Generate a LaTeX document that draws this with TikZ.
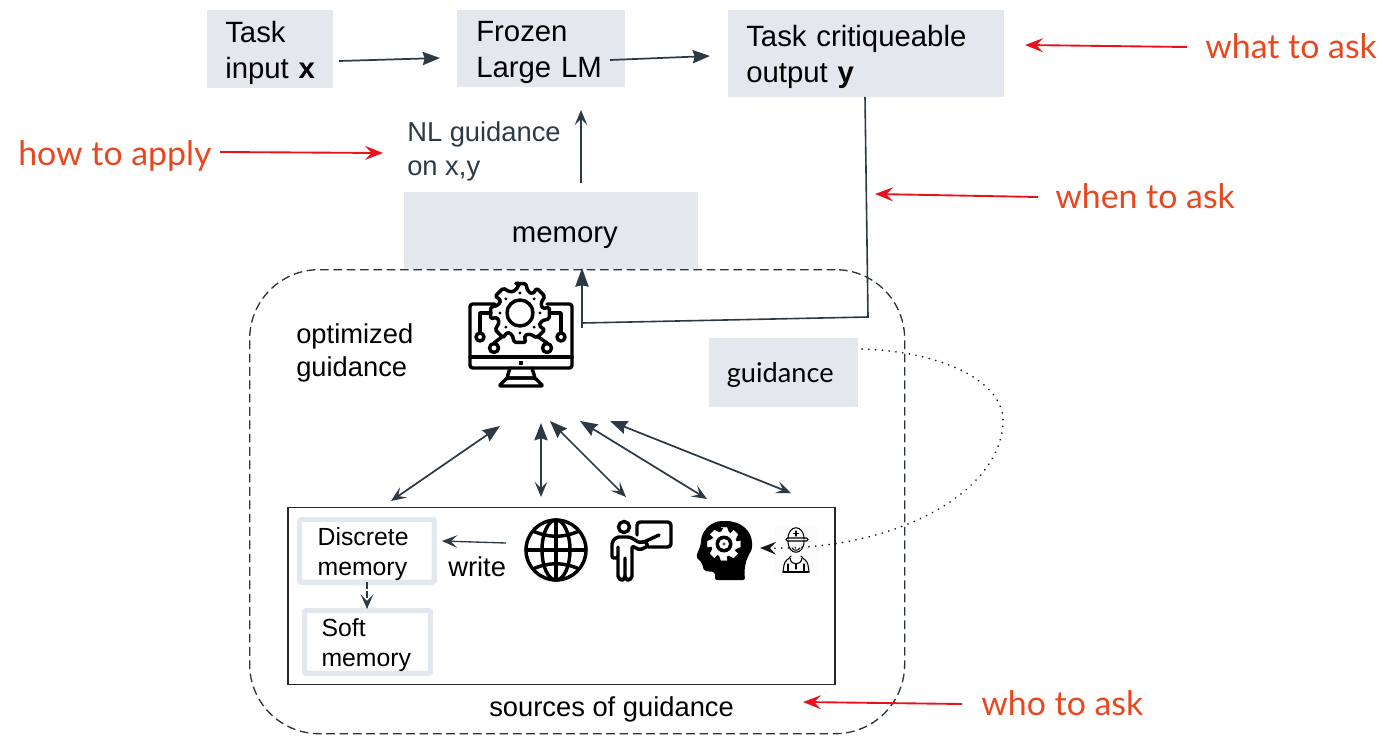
\documentclass[tikz,border=0pt]{standalone}
\usepackage{fontspec}
\setmainfont{Liberation Sans}
\newfontfamily\lato{Lato}
\usetikzlibrary{arrows.meta,calc}
\definecolor{boxgray}{HTML}{E3E7EE}
\definecolor{ink}{HTML}{2D3A46}
\definecolor{redtxt}{HTML}{E8481F}
\definecolor{redline}{HTML}{E6121C}
\tikzset{
  x=0.75pt,y=-0.75pt,
  fulltip/.tip={Stealth[length=13pt,width=10pt,inset=1.5pt]},
  sharptip/.tip={Stealth[length=11.5pt,width=9.5pt,inset=5pt]},
  box/.style={fill=boxgray,inner xsep=0pt,inner ysep=0pt,align=left,font=\fontsize{22}{27}\selectfont,text=black},
  plain/.style={inner sep=0pt,align=left,font=\fontsize{20.5}{25.2}\selectfont},
  frame/.style={draw=boxgray,line width=3.9pt,rounded corners=1pt,inner sep=0pt,align=left,font=\fontsize{18.6}{22.5}\selectfont},
  redlabel/.style={inner sep=0pt,font=\lato\fontsize{25.4}{30}\selectfont,text=redtxt},
  conn/.style={draw=ink,line width=1.3pt,-fulltip},
  openconn/.style={draw=ink,line width=1.2pt,-sharptip},
  bidir/.style={draw=ink,line width=1.3pt,fulltip-sharptip},
  redarrow/.style={draw=redline,line width=1.4pt,-{Stealth[length=13.5pt,width=10.5pt,inset=5pt]}},
  icon/.style={draw=black,line width=2.6pt,line join=round,line cap=round},
  thinicon/.style={draw=black,line width=0.8pt,line join=round,line cap=round},
}
\begin{document}
\begin{tikzpicture}
\useasboundingbox (0,0) rectangle (1384,746);
% main boxes
\node[box,minimum width=94.5pt,minimum height=58.5pt,text width=67.5pt,inner xsep=13.5pt,anchor=north west] (input) at (207,10) {\rule{0pt}{21pt}Task\\input \textbf{x}};
\node[box,minimum width=126pt,minimum height=57.75pt,text width=97.5pt,inner xsep=14.25pt,anchor=north west] (frozen) at (457,10) {\rule{0pt}{21pt}Frozen\\Large LM};
\node[box,minimum width=207pt,minimum height=65pt,text width=180pt,inner xsep=13.5pt,anchor=north west] (critique) at (728,10) {\rule{0pt}{21pt}Task critiqueable\\output \textbf{y}};
\node[box,minimum width=220pt,minimum height=57.75pt,anchor=north west,align=center] (memory) at (404,192) {\hspace*{21pt}\rule{0pt}{22.5pt}memory};
\node[box,minimum width=111.75pt,minimum height=51.75pt,anchor=north west,align=center,font=\lato\fontsize{20.4}{24}\selectfont] (guidance) at (709,338) {\rule{0pt}{18pt}guidance\hspace*{5.25pt}};
\node[plain,anchor=north west,text=ink] (nl) at (407,121.5) {NL guidance\\on x,y};
% guidance region
\node[draw=ink!90!black,dash pattern=on 6.5pt off 3.5pt,line width=1pt,rounded corners=52pt,minimum width=491.25pt,minimum height=348pt,anchor=north west] (region) at (249,269) {};
\node[plain,anchor=north west] (optimized) at (296,323) {optimized\\guidance};
\node[draw=black!85,line width=1.2pt,minimum width=410.25pt,minimum height=132.75pt,anchor=north west] (sources) at (287,506.5) {};
\node[plain,anchor=base west] (srclabel) at (489,716) {sources of guidance};
\node[frame,minimum width=101pt,minimum height=47pt,text width=74pt,inner xsep=13.4pt,anchor=north west] (discrete) at (297,517) {\rule{0pt}{18.5pt}Discrete\\memory};
\node[frame,minimum width=94.4pt,minimum height=47pt,text width=69pt,inner xsep=12.7pt,anchor=north west] (soft) at (302,608) {\rule{0pt}{18.5pt}Soft\\memory};
\node[plain,anchor=base west] (write) at (448,576) {write};
% red labels
\node[redlabel,anchor=base west] (what) at (1205,58) {what to ask};
\node[redlabel,anchor=base west] (how) at (18,165) {how to apply};
\node[redlabel,anchor=base west] (when) at (1055,208) {when to ask};
\node[redlabel,anchor=base west] (who) at (981,715) {who to ask};
% connector ends
\coordinate (a1) at (339,61); \coordinate (a2) at (440,58);
\coordinate (b1) at (610,60); \coordinate (b2) at (710,56);
\coordinate (c1) at (581,183); \coordinate (c2) at (581,110);
\coordinate (d0) at (582,328); \coordinate (d1) at (582,323); \coordinate (d2) at (582,268);
\coordinate (e0) at (865,97); \coordinate (e1) at (868,317);
\coordinate (hub1) at (500,426); \coordinate (src1) at (391,501);
\coordinate (hub2) at (541,423); \coordinate (src2) at (541,497);
\coordinate (hub3) at (550,421); \coordinate (src3) at (626,497);
\coordinate (hub4) at (580,421); \coordinate (src4) at (707,499);
\coordinate (hub5) at (610,421); \coordinate (src5) at (791,493);
\coordinate (w1) at (506,543); \coordinate (w2) at (442,541);
\coordinate (s1) at (367,582); \coordinate (s2) at (367,609);
\coordinate (g1) at (862,349); \coordinate (g2) at (1003,420); \coordinate (g3) at (760,548);
\coordinate (r1) at (1187,47); \coordinate (r1e) at (1025,45);
\coordinate (r2) at (1038,197); \coordinate (r2e) at (875,194);
\coordinate (r3) at (220,152); \coordinate (r3e) at (383,153);
\coordinate (r4) at (962,704); \coordinate (r4e) at (803,702);
% worker background
\fill[black!1.5] (775,526) rectangle (818,575);
% connectors
\draw[conn] (a1) -- (a2);
\draw[conn] (b1) -- (b2);
\draw[openconn] (c1) -- (c2);
\draw[draw=ink,line width=1.2pt,-{Stealth[length=14pt,width=10pt,inset=1pt]}] (d0) -- (d2);
\draw[draw=ink,line width=1.2pt] (e0) -- (e1) -- (d1);
\draw[bidir] (hub1) -- (src1);
\draw[bidir] (hub2) -- (src2);
\draw[bidir] (hub3) -- (src3);
\draw[bidir] (hub4) -- (src4);
\draw[bidir] (hub5) -- (src5);
\draw[draw=ink,line width=1pt,-sharptip] (w1) -- (w2);
\draw[draw=ink,line width=1pt,dash pattern=on 5pt off 2pt,-{Stealth[length=11pt,width=9.5pt,inset=5pt]}] (s1) -- (s2);
\draw[draw=black!90,line width=1.35pt,line cap=round,dash pattern=on 0.1pt off 5pt,-{Stealth[length=12pt,width=9.5pt,inset=4.5pt]}] (g1) .. controls (950,352) and (1003,385) .. (g2) .. controls (1003,490) and (900,550) .. (g3);
\draw[redarrow] (r1) -- (r1e);
\draw[redarrow] (r2) -- (r2e);
\draw[redarrow] (r3) -- (r3e);
\draw[redarrow] (r4) -- (r4e);
% computer icon
\draw[icon,rounded corners=2pt] (495,304) -- (470,304) -- (470,368) -- (572,368) -- (572,304) -- (547,304);
\draw[icon] (470,357) -- (572,357);
\fill (519,361) rectangle (523,365);
\draw[icon,rounded corners=1pt] (510,368) -- (507,378) -- (535,378) -- (532,368);
\draw[icon,rounded corners=1pt] (507,378) -- (499,386) -- (543,386) -- (535,378) -- cycle;
\draw[icon,fill=white,rounded corners=1.2pt] (520,283)
  \foreach \a in {0,45,...,315}{
    -- ([shift={(520,313)}]\a-101:30) -- ([shift={(520,313)}]\a-79:30) -- ([shift={(520,313)}]\a-70:23)  -- ([shift={(520,313)}]\a-56:23)
  } -- cycle;
\draw[icon] (520,313) circle[radius=13];
\foreach \a in {0,45,...,315}{\fill ([shift={(520,313)}]\a-90:20) circle[radius=1.6];}
\draw[icon] (491,313) -- (480,313) -- (480,332);
\draw[icon] (550,313) -- (561,313) -- (561,332);
\draw[icon] (480,337) circle[radius=4];
\draw[icon] (561,337) circle[radius=4];
\draw[icon] (503,336) -- (494,343);
\draw[icon] (537,336) -- (547,343);
\draw[icon] (494,348) circle[radius=4.5];
\draw[icon] (547,348) circle[radius=4.5];
% globe
\draw[icon] (556,550) circle[radius=30];
\draw[icon] (556,550) ellipse[x radius=14,y radius=30];
\draw[icon] (556,520) -- (556,580);
\draw[icon] (526,550) -- (586,550);
\draw[icon] (533,531) .. controls (548,538) and (564,538) .. (579,531);
\draw[icon] (533,569) .. controls (548,562) and (564,562) .. (579,569);
% presenter
\draw[icon,rounded corners=2.5pt] (637,535) -- (637,522) -- (671,522) -- (671,547) -- (648,547);
\draw[icon] (624,527) circle[radius=5.5];
\draw[icon] (644,542) -- (659,535);
\draw[icon,rounded corners=1.5pt] (612,558) -- (612,542) -- (616.5,537) -- (630,537) -- (640,543) -- (645,541) -- (648,546) -- (640,550) -- (632,546) -- (632,578) -- (629,580) -- (627,580) -- (625,578) -- (625,557) -- (625,578) -- (623,580) -- (621,580) -- (618,578) -- (618,546) -- (618,558) -- cycle;
% head icon
\fill[black,rounded corners=1.5pt] (715,580) -- (715,572) -- (704,571) -- (702,563) -- (696,557) -- (701,544) .. controls (701,530) and (712,521) .. (724,521) .. controls (742,521) and (752,532) .. (752,545) .. controls (752,553) and (743,558) .. (745,580) -- cycle;
\draw[draw=white,fill=white,line width=0.3pt,line join=round] (724,527.5)
  \foreach \a in {0,45,...,315}{
    -- ([shift={(724,544)}]\a-100:16.7) -- ([shift={(724,544)}]\a-80:16.7) -- ([shift={(724,544)}]\a-68:12.5)  -- ([shift={(724,544)}]\a-57:12.5)
  } -- cycle;
\fill[black] (724,544) circle[radius=8.5];
\fill[white] (724,544) circle[radius=5];
\fill[black!70] (724,544) circle[radius=1.6];
% worker icon
\draw[thinicon] (788,539) .. controls (788,524) and (804,524) .. (804,539);
\draw[thinicon,rounded corners=1pt] (786,541) -- (808,541) -- (808,538) -- (786,538) -- cycle;
\draw[thinicon] (796,531) -- (796,536) (793.5,533.5) -- (798.5,533.5);
\draw[thinicon] (788,541) .. controls (788,556) and (804,556) .. (804,541);
\draw[thinicon] (792,548) .. controls (794,551) and (798,551) .. (800,548);
\draw[thinicon] (783,572) -- (784,565) .. controls (785,560) and (788,560) .. (791,556);
\draw[thinicon] (809,572) -- (808,565) .. controls (807,560) and (804,560) .. (801,556);
\draw[thinicon] (783,572) -- (809,572);
\draw[thinicon] (790,558) .. controls (791,566) and (801,566) .. (802,558);
\draw[thinicon] (788,572) -- (788,564) (804,572) -- (804,564) (796,564) -- (796,569);
\end{tikzpicture}
\end{document}
